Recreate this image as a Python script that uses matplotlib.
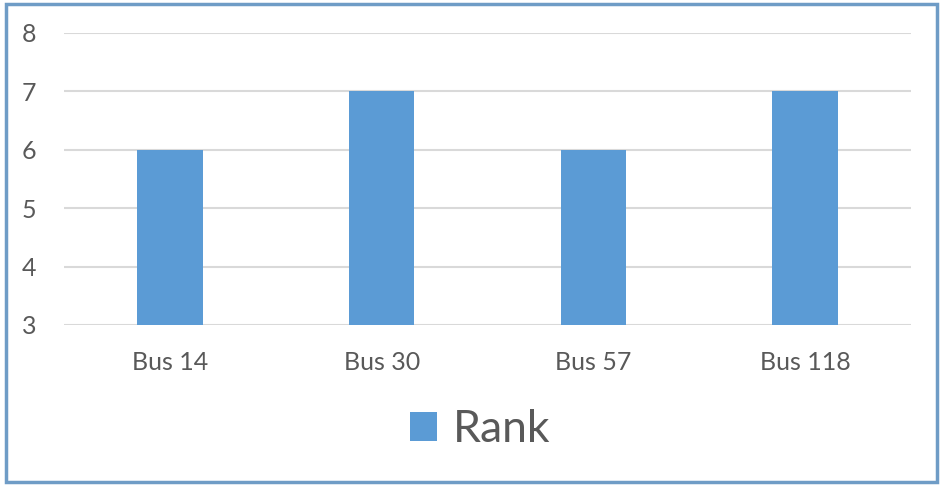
import matplotlib
matplotlib.use("Agg")
import matplotlib.pyplot as plt
from matplotlib.patches import Rectangle

categories = ["Bus 14", "Bus 30", "Bus 57", "Bus 118"]
rank = [6, 7, 6, 7]
yticks = [3, 4, 5, 6, 7, 8]

plt.rcParams['font.family'] = ['Lato', 'DejaVu Sans']

W, H = 943, 488
fig = plt.figure(figsize=(W/100, H/100), dpi=100)
ax = fig.add_axes([64/W, 1-325/H, (911-64)/W, (325-33)/H])

x = range(len(categories))
ax.bar(x, rank, width=0.31, color="#5b9bd5", zorder=3, label="Rank")
ax.set_ylim(3, 8)
ax.set_xlim(-0.5, len(categories)-0.5)
ax.set_yticks(yticks)
ax.set_xticks(list(x))
ax.set_xticklabels(categories)
ax.grid(axis='y', color="#d9d9d9", linewidth=1.5, zorder=0)
for s in ax.spines.values():
    s.set_visible(False)
ax.tick_params(length=0, labelsize=18, labelcolor="#595959")
ax.tick_params(axis='y', pad=20)
ax.tick_params(axis='x', pad=19)

leg = fig.legend(loc='center', bbox_to_anchor=(480/W, 1-430/H), frameon=False,
                 fontsize=32, handlelength=0.62, handleheight=0.62, handletextpad=0.35,
                 labelcolor="#595959")

fig.patches.append(Rectangle((6/W, 1-482/H), (937-6)/W, (482-4)/H, transform=fig.transFigure,
                             fill=False, edgecolor="#6f9cc6", linewidth=2.5))

fig.savefig("out.png", dpi=100, facecolor="white")
